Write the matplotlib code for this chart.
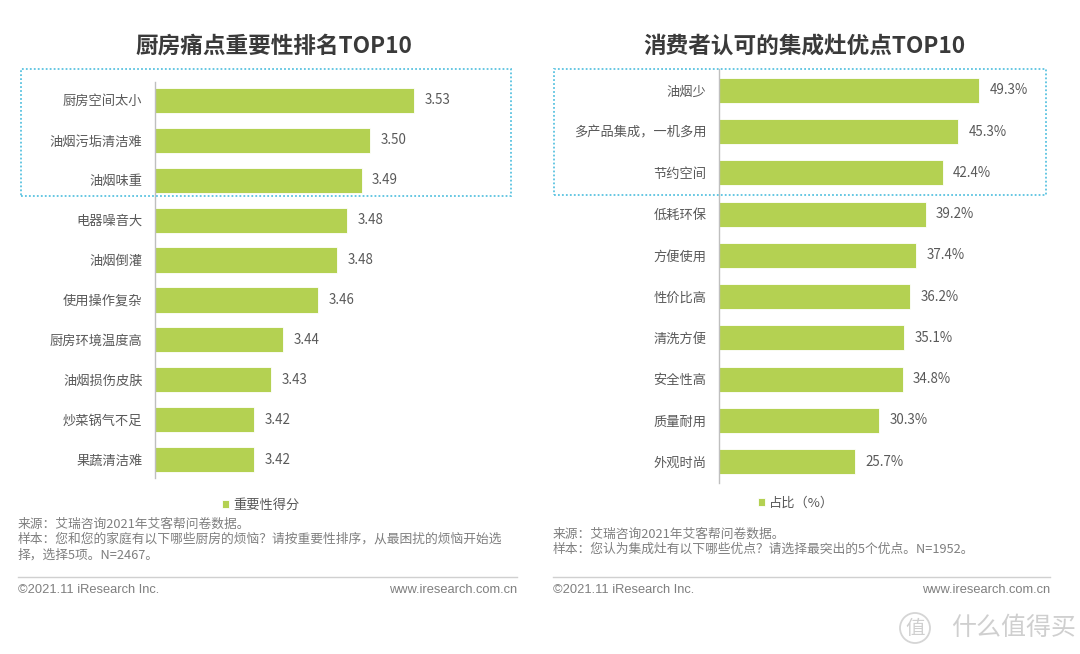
import matplotlib
matplotlib.use("Agg")
import matplotlib.pyplot as plt
from matplotlib.patches import Rectangle, Ellipse
from matplotlib.lines import Line2D

plt.rcParams['font.family'] = ['Noto Sans CJK SC', 'DejaVu Sans']

# ---------------- data ----------------
left_title = '厨房痛点重要性排名TOP10'
left_categories = ['厨房空间太小', '油烟污垢清洁难', '油烟味重', '电器噪音大', '油烟倒灌',
                   '使用操作复杂', '厨房环境温度高', '油烟损伤皮肤', '炒菜锅气不足', '果蔬清洁难']
left_values = [3.53, 3.50, 3.494, 3.484, 3.477, 3.464, 3.44, 3.432, 3.42, 3.42]
left_series = '重要性得分'
left_notes = ['来源：艾瑞咨询2021年艾客帮问卷数据。',
              '样本：您和您的家庭有以下哪些厨房的烦恼？请按重要性排序，从最困扰的烦恼开始选',
              '择，选择5项。N=2467。']

right_title = '消费者认可的集成灶优点TOP10'
right_categories = ['油烟少', '多产品集成，一机多用', '节约空间', '低耗环保', '方便使用',
                    '性价比高', '清洗方便', '安全性高', '质量耐用', '外观时尚']
right_values = [49.3, 45.3, 42.4, 39.2, 37.4, 36.2, 35.1, 34.8, 30.3, 25.7]
right_series = '占比（%）'
right_notes = ['来源：艾瑞咨询2021年艾客帮问卷数据。',
               '样本：您认为集成灶有以下哪些优点？请选择最突出的5个优点。N=1952。']

copyright_text = '©2021.11 iResearch Inc.'
site_text = 'www.iresearch.com.cn'

# ---------------- style ----------------
W, H = 1080, 654
BAR = '#B4D152'
TXT = '#595959'
TITLE = '#3A3A3A'
NOTE = '#7F7F7F'
BOX = '#5BC3E0'

fig = plt.figure(figsize=(W / 100, H / 100), dpi=100)
fig.patch.set_facecolor('white')


def fx(px):
    return px / W


def fy(py):
    return 1 - py / H


def make_panel(x0, x1, y0, y1, xlim, ylim, cats, vals, fmt, bar_h, series, leg_xy):
    ax = fig.add_axes([fx(x0), fy(y1), fx(x1 - x0), (y1 - y0) / H])
    ypos = list(range(len(cats)))
    bars = ax.barh(ypos, vals, height=bar_h, color=BAR, edgecolor='white',
                   linewidth=0.6, label=series, zorder=2)
    ax.set_xlim(*xlim)
    ax.set_ylim(*ylim)
    ax.set_yticks(ypos)
    ax.set_yticklabels(cats, fontsize=9.5, color=TXT)
    ax.tick_params(axis='y', length=0, pad=9)
    ax.set_xticks([])
    for s in ['top', 'right', 'bottom']:
        ax.spines[s].set_visible(False)
    ax.spines['left'].set_color('#BFBFBF')
    ax.spines['left'].set_linewidth(1.0)
    ax.set_facecolor('none')
    for b, v in zip(bars, vals):
        ax.annotate(fmt(v), xy=(b.get_width(), b.get_y() + b.get_height() / 2),
                    xytext=(7.5, 0), textcoords='offset points',
                    ha='left', va='center', fontsize=9.6, color=TXT)
    leg = ax.legend(loc='center', bbox_to_anchor=(fx(leg_xy[0]), fy(leg_xy[1])),
                    bbox_transform=fig.transFigure, frameon=False,
                    handlelength=0.55, handleheight=0.55, handletextpad=0.35,
                    fontsize=9.5)
    for t in leg.get_texts():
        t.set_color(TXT)
    return ax


# left panel
make_panel(155, 497, 82, 478, (3.352, 3.587), (9.46, -0.46),
           left_categories, left_values, lambda v: f'{v:.2f}', 0.63,
           left_series, (261, 505))
# right panel
make_panel(719, 1046, 69, 483, (0, 62.0), (9.52, -0.52),
           right_categories, right_values, lambda v: f'{v:.1f}%', 0.61,
           right_series, (796, 503))

# titles
fig.text(fx(274), fy(46), left_title, ha='center', va='center',
         fontsize=16.3, fontweight='bold', color=TITLE)
fig.text(fx(804), fy(46), right_title, ha='center', va='center',
         fontsize=16.3, fontweight='bold', color=TITLE)

# dotted highlight boxes
for (bx0, by0, bx1, by1) in [(21, 69, 511, 196), (554, 69, 1046, 195)]:
    fig.patches.append(Rectangle((fx(bx0), fy(by1)), fx(bx1 - bx0), (by1 - by0) / H,
                                 transform=fig.transFigure, fill=False,
                                 edgecolor=BOX, linewidth=1.3,
                                 linestyle=(0, (1, 1.2)), zorder=5))

# footnotes
for i, line in enumerate(left_notes):
    fig.text(fx(18), fy(524 + 15.5 * i), line, ha='left', va='center',
             fontsize=9.2, color=NOTE)
for i, line in enumerate(right_notes):
    fig.text(fx(553), fy(534 + 15.5 * i), line, ha='left', va='center',
             fontsize=9.2, color=NOTE)

# separators
for (sx0, sx1) in [(18, 517), (553, 1050)]:
    fig.add_artist(Line2D([fx(sx0), fx(sx1)], [fy(577), fy(577)],
                          transform=fig.transFigure, color='#D0D0D0', linewidth=1.0))

# copyright lines
for (cx0, cx1) in [(18, 517), (553, 1050)]:
    fig.text(fx(cx0), fy(590), copyright_text, ha='left', va='center',
             fontsize=9.3, color=NOTE, family=['Liberation Sans', 'DejaVu Sans'])
    fig.text(fx(cx1), fy(590), site_text, ha='right', va='center',
             fontsize=9.3, color=NOTE, family=['Liberation Sans', 'DejaVu Sans'])

# watermark
fig.patches.append(Ellipse((fx(915), fy(628)), 30 / W, 30 / H, transform=fig.transFigure,
                           fill=False, edgecolor='#D5D5D5', linewidth=1.3))
fig.text(fx(915), fy(628), '值', ha='center', va='center', fontsize=14,
         color='#CFCFCF')
fig.text(fx(1076), fy(628), '什么值得买', ha='right', va='center', fontsize=18,
         color='#CFCFCF')

fig.savefig('out.png', dpi=100, facecolor='white')
